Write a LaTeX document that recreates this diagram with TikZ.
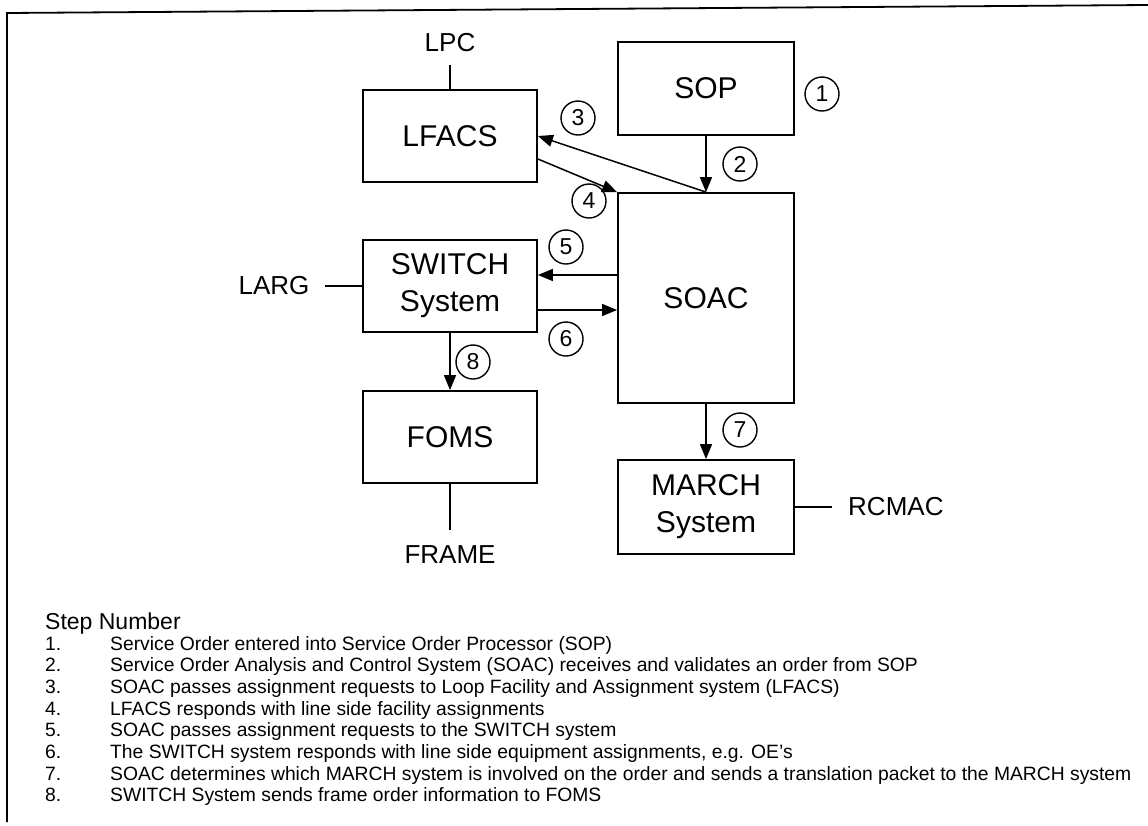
\documentclass[tikz,border=0pt]{standalone}
\usepackage{fontspec}
\setmainfont{Liberation Sans}
\usetikzlibrary{arrows.meta, positioning, calc}
\tikzset{
    sysbox/.style={
        draw,
        line width=1.8pt,
        minimum width=174pt,
        minimum height=92pt,
        align=center,
        font=\fontsize{30}{37}\selectfont
    },
    outlabel/.style={inner sep=0pt, font=\fontsize{26}{30}\selectfont},
    stepnum/.style={draw, circle, line width=1.4pt, minimum size=34pt, inner sep=0pt, font=\fontsize{23}{23}\selectfont},
    line/.style={-{Triangle[length=15pt, width=12pt]}, line width=1.5pt},
    link/.style={line width=1.5pt},
    listtext/.style={anchor=base west, inner sep=0pt, font=\fontsize{19.3}{22}\selectfont}
}

\begin{document}
\begin{tikzpicture}[x=1pt, y=-1pt]
\useasboundingbox (0,0) rectangle (1148,825);
\fill[white] (0,0) rectangle (1148,825);

% frame
\draw[line width=1.8pt] (1148,5) -- (7,13) -- (7,822);

% systems
\node[sysbox] (lfacs) at (450,136) {LFACS};
\node[sysbox] (switch) at (450,286) {SWITCH\\System};
\node[sysbox] (foms) at (450,437) {FOMS};
\node[sysbox, minimum width=176pt, minimum height=93pt] (sop) at (706,88.5) {SOP};
\node[sysbox, minimum width=176pt, minimum height=210pt] (soac) at (706,298) {SOAC};
\node[sysbox, minimum width=176pt, minimum height=94pt] (march) at (706,507) {MARCH\\System};

% outside systems
\node[outlabel] (lpc) at (450,43) {LPC};
\node[outlabel] (larg) at (274,286) {LARG};
\node[outlabel] (frame) at (450,555) {FRAME};
\node[outlabel, anchor=west] (rcmac) at (848,507) {RCMAC};

\draw[link, shorten <=13pt] (lpc) -- (lfacs);
\draw[link, shorten <=15pt] (larg) -- (switch);
\draw[link, shorten >=16pt] (foms) -- (frame);
\draw[link, shorten >=16pt] (march) -- (rcmac);

% order flow
\draw[line] (sop) -- (soac);
\draw[line] (soac.north) -- (lfacs.east);
\draw[line] ($(lfacs.east)+(0,23)$) -- (soac.north west);
\draw[line] ($(switch.east -| soac.west)+(0,-11)$) -- ($(switch.east)+(0,-11)$);
\draw[line] ($(switch.east)+(0,24)$) -- ($(switch.east -| soac.west)+(0,24)$);
\draw[line] (soac) -- (march);
\draw[line] (switch) -- (foms);

% step markers
\node[stepnum] (c1) at (822,94) {1};
\node[stepnum] (c2) at (740,164) {2};
\node[stepnum] (c3) at (578,118) {3};
\node[stepnum] (c4) at (589,201) {4};
\node[stepnum] (c5) at (566,247) {5};
\node[stepnum] (c6) at (566,339) {6};
\node[stepnum] (c7) at (740,430) {7};
\node[stepnum] (c8) at (473,362) {8};

% legend
\node[listtext, font=\fontsize{23}{26}\selectfont] (title) at (45,629) {Step Number};
\node[listtext] (s1) at (45,650) {1.};
\node[listtext] (t1) at (110,650) {Service Order entered into Service Order Processor (SOP)};
\node[listtext] (s2) at (45,671.7) {2.};
\node[listtext] (t2) at (110,671.7) {Service Order Analysis and Control System (SOAC) receives and validates an order from SOP};
\node[listtext] (s3) at (45,693.4) {3.};
\node[listtext] (t3) at (110,693.4) {SOAC passes assignment requests to Loop Facility and Assignment system (LFACS)};
\node[listtext] (s4) at (45,715.1) {4.};
\node[listtext] (t4) at (110,715.1) {LFACS responds with line side facility assignments};
\node[listtext] (s5) at (45,736.8) {5.};
\node[listtext] (t5) at (110,736.8) {SOAC passes assignment requests to the SWITCH system};
\node[listtext] (s6) at (45,758.5) {6.};
\node[listtext] (t6) at (110,758.5) {The SWITCH system responds with line side equipment assignments, e.g. OE's};
\node[listtext] (s7) at (45,780.2) {7.};
\node[listtext] (t7) at (110,780.2) {SOAC determines which MARCH system is involved on the order and sends a translation packet to the MARCH system};
\node[listtext] (s8) at (45,801.9) {8.};
\node[listtext] (t8) at (110,801.9) {SWITCH System sends frame order information to FOMS};
\end{tikzpicture}
\end{document}
